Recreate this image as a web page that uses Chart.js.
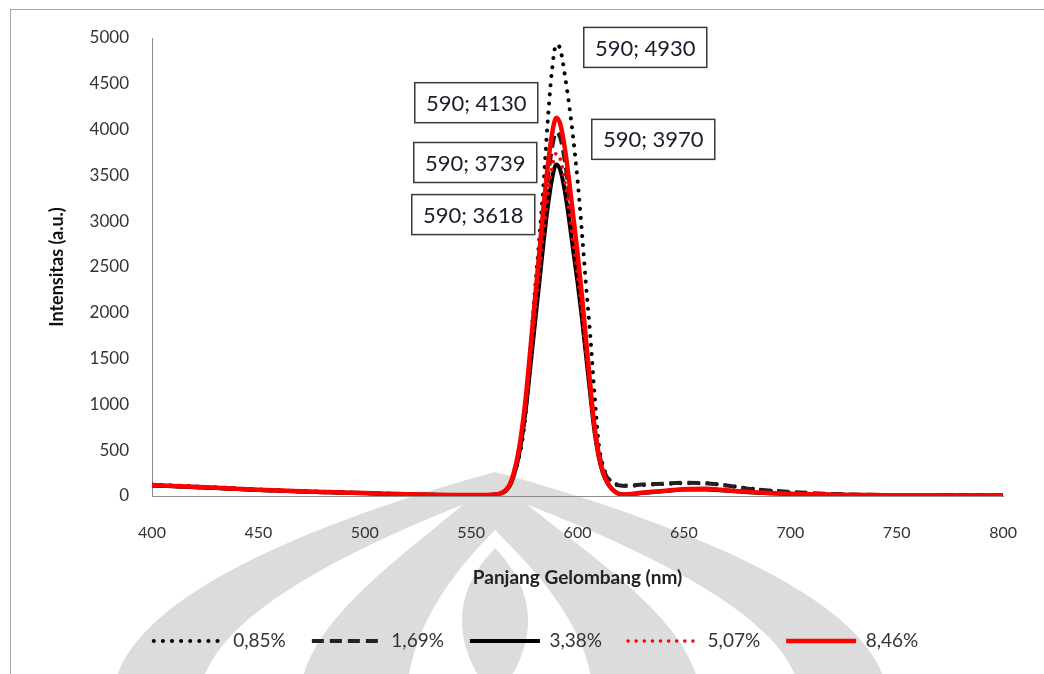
<!DOCTYPE html>
<html lang="id">
<head>
  <meta charset="UTF-8">
  <title>Intensitas vs Panjang Gelombang</title>
  <script src="https://cdn.jsdelivr.net/npm/chart.js"></script>
  <style>
    body {
      margin: 0;
      background: #fff;
    }
    #wrap {
      position: relative;
      width: 1044px;
      height: 674px;
      overflow: hidden;
    }
    #frame {
      position: absolute;
      left: 10px;
      top: 9px;
      width: 1100px;
      height: 700px;
      border-left: 1px solid #a6a6a6;
      border-top: 1px solid #a6a6a6;
    }
    #mark, #chart {
      position: absolute;
      left: 0;
      top: 0;
    }
  </style>
</head>
<body>
  <div id="wrap">
    <!-- watermark behind the chart -->
    <svg id="mark" width="1044" height="674">
      <path d="M113,700 C113,600 320,520 495,472 C670,520 887,600 887,700 Z" fill="#dcdcdc"/>
      <path d="M200,700 C200,615 370,540 495,492 C620,540 800,615 800,700 Z" fill="#fff"/>
      <path d="M300,700 C300,615 430,540 495,476 C560,540 700,615 700,700 Z" fill="#dcdcdc"/>
      <path d="M407,700 C407,630 455,570 495,530 C535,570 593,630 593,700 Z" fill="#fff"/>
      <path d="M495,548 C535,590 543,640 495,700 C447,640 455,590 495,548 Z" fill="#dcdcdc"/>
    </svg>
    <div id="frame"></div>
    <canvas id="chart" width="1044" height="674"></canvas>
  </div>

  <script>
    // panjang gelombang (nm)
    const wavelength = [400,410,420,430,440,450,460,470,480,490,500,510,520,530,540,550,556,560,
      564,566,568,570,572,574,576,578,580,582,584,586,588,590,592,594,596,598,600,602,604,606,608,610,612,614,616,618,620,622,
      626,630,640,650,660,670,680,690,700,710,720,730,740,750,760,770,780,790,800];

    const labels085 = "0,85%";
    const int085 = [125,115,105,95,83,72,62,54,46,40,33,27,21,17,13,11,10,14,
      28,55,110,220,380,600,1000,1650,2250,2800,3400,4100,4650,4930,4870,4600,4280,3900,3450,2900,2300,1750,1100,560,330,210,160,130,120,115,
      115,120,130,140,140,115,85,58,38,26,18,14,11,9,8,7,7,6,6];

    const labels169 = "1,69%";
    const int169 = [118,108,98,88,78,66,58,50,43,37,31,24,19,14,11,9,9,14,
      30,58,115,240,430,720,1100,1590,2070,2550,3030,3460,3800,3970,3900,3660,3320,2940,2560,2130,1660,1180,760,480,300,200,150,125,115,110,
      115,125,135,145,140,115,80,60,45,32,22,16,12,10,8,8,7,6,6];

    const labels338 = "3,38%";
    const int338 = [116,106,96,86,76,65,57,49,42,36,30,23,18,13,10,8,8,13,
      28,53,105,220,395,655,1010,1445,1885,2320,2760,3150,3460,3618,3550,3330,3020,2670,2330,1950,1530,1100,700,420,245,145,80,42,22,16,
      22,32,52,70,72,58,42,30,22,18,14,11,9,8,7,6,6,5,5];

    const labels507 = "5,07%";
    const int507 = [119,109,99,89,79,67,59,51,44,37,31,24,19,14,11,9,9,14,
      28,55,110,225,405,680,1040,1490,1950,2400,2850,3260,3580,3739,3670,3440,3120,2760,2400,1990,1540,1090,680,410,240,140,75,40,22,18,
      25,35,55,72,75,60,45,32,25,19,15,12,10,8,7,7,6,6,5];

    const labels846 = "8,46%";
    const int846 = [120,110,100,90,80,68,60,52,45,38,32,25,20,15,12,10,10,15,
      30,60,120,250,450,750,1150,1650,2150,2650,3150,3600,3950,4130,4050,3800,3450,3050,2650,2200,1700,1200,750,450,260,150,80,40,20,15,
      25,35,55,75,78,62,45,33,25,20,15,12,10,8,8,7,6,6,5];

    const xTicks = { min: 400, max: 800, step: 50 };
    const yTicks = { min: 0, max: 5000, step: 500 };

    const toPoints = vals => vals.map((v, i) => ({ x: wavelength[i], y: v }));

    // posisi kotak label puncak, relatif ke titik puncak
    const labelOffsets = [[89, 3], [97, 7], [-83, 50], [-81, 9], [-80, -15]];

    const peakLabels = {
      id: "peakLabels",
      afterDatasetsDraw(chart) {
        const { ctx, scales: { x, y } } = chart;
        ctx.save();
        ctx.font = "22px Lato";
        ctx.textAlign = "center";
        ctx.textBaseline = "middle";
        chart.data.datasets.forEach((ds, i) => {
          let k = 0;
          ds.data.forEach((p, j) => { if (p.y > ds.data[k].y) k = j; });
          const px = x.getPixelForValue(ds.data[k].x) + labelOffsets[i][0];
          const py = y.getPixelForValue(ds.data[k].y) + labelOffsets[i][1];
          const w = 123, h = 40;
          ctx.fillStyle = "#fff";
          ctx.fillRect(px - w / 2, py - h / 2, w, h);
          ctx.lineWidth = 1.5;
          ctx.strokeStyle = "#3a3a3a";
          ctx.strokeRect(px - w / 2, py - h / 2, w, h);
          ctx.fillStyle = "#1c1c2c";
          ctx.fillText(ds.data[k].x + "; " + ds.data[k].y, px, py + 1);
        });
        ctx.restore();
      }
    };

    Chart.defaults.font.family = "Lato";
    Chart.defaults.color = "#333";

    new Chart(document.getElementById("chart").getContext("2d"), {
      type: "scatter",
      data: {
        datasets: [
          {
            label: labels085,
            data: toPoints(int085),
            borderColor: "#000",
            backgroundColor: "#000",
            borderWidth: 4,
            borderDash: [0.1, 9],
            borderCapStyle: "round",
            order: 5
          },
          {
            label: labels169,
            data: toPoints(int169),
            borderColor: "#222",
            backgroundColor: "#222",
            borderWidth: 4,
            borderDash: [12, 6],
            order: 4
          },
          {
            label: labels338,
            data: toPoints(int338),
            borderColor: "#000",
            backgroundColor: "#000",
            borderWidth: 4,
            order: 3
          },
          {
            label: labels507,
            data: toPoints(int507),
            borderColor: "#ff0000",
            backgroundColor: "#ff0000",
            borderWidth: 3.5,
            borderDash: [0.1, 8],
            borderCapStyle: "round",
            order: 2
          },
          {
            label: labels846,
            data: toPoints(int846),
            borderColor: "#ff0000",
            backgroundColor: "#ff0000",
            borderWidth: 4.5,
            order: 1
          }
        ]
      },
      options: {
        responsive: false,
        animation: false,
        showLine: true,
        elements: {
          point: { radius: 0, hoverRadius: 0 },
          line: { cubicInterpolationMode: "monotone" }
        },
        layout: {
          padding: { top: 38, left: 62, right: 34, bottom: 13.5 }
        },
        scales: {
          x: {
            type: "linear",
            min: xTicks.min,
            max: xTicks.max,
            grid: { display: false, drawTicks: false },
            border: { display: true, color: "#8c8c8c", width: 1 },
            ticks: { stepSize: xTicks.step, padding: 27, font: { size: 16 }, color: "#333" },
            title: {
              display: true,
              text: "Panjang Gelombang (nm)",
              font: { size: 19, weight: "bold" },
              color: "#222",
              padding: { top: 0, bottom: 16 }
            },
            afterFit(scale) { scale.height = 109.5; }
          },
          y: {
            min: yTicks.min,
            max: yTicks.max,
            grid: { display: false, drawTicks: false },
            border: { display: true, color: "#8c8c8c", width: 1 },
            ticks: {
              stepSize: yTicks.step,
              padding: 23,
              font: { size: 17 },
              color: "#333",
              callback: v => String(v)
            },
            title: {
              display: true,
              text: "Intensitas (a.u.)",
              font: { size: 18, weight: "bold" },
              color: "#111",
              padding: { top: -16, bottom: 0 }
            },
            afterFit(scale) { scale.width = 90; }
          }
        },
        plugins: {
          legend: {
            position: "bottom",
            labels: {
              usePointStyle: true,
              pointStyle: "line",
              pointStyleWidth: 70,
              padding: 26,
              color: "#333",
              font: { size: 19 },
              sort: (a, b) => a.datasetIndex - b.datasetIndex,
              generateLabels(chart) {
                const items = Chart.defaults.plugins.legend.labels.generateLabels(chart);
                items.forEach(it => {
                  const ds = chart.data.datasets[it.datasetIndex];
                  it.lineDash = ds.borderDash || [];
                  it.lineCap = ds.borderCapStyle || "butt";
                  it.lineWidth = ds.borderWidth;
                  it.strokeStyle = ds.borderColor;
                });
                return items;
              }
            }
          },
          tooltip: { enabled: false }
        }
      },
      plugins: [peakLabels]
    });
  </script>
</body>
</html>
